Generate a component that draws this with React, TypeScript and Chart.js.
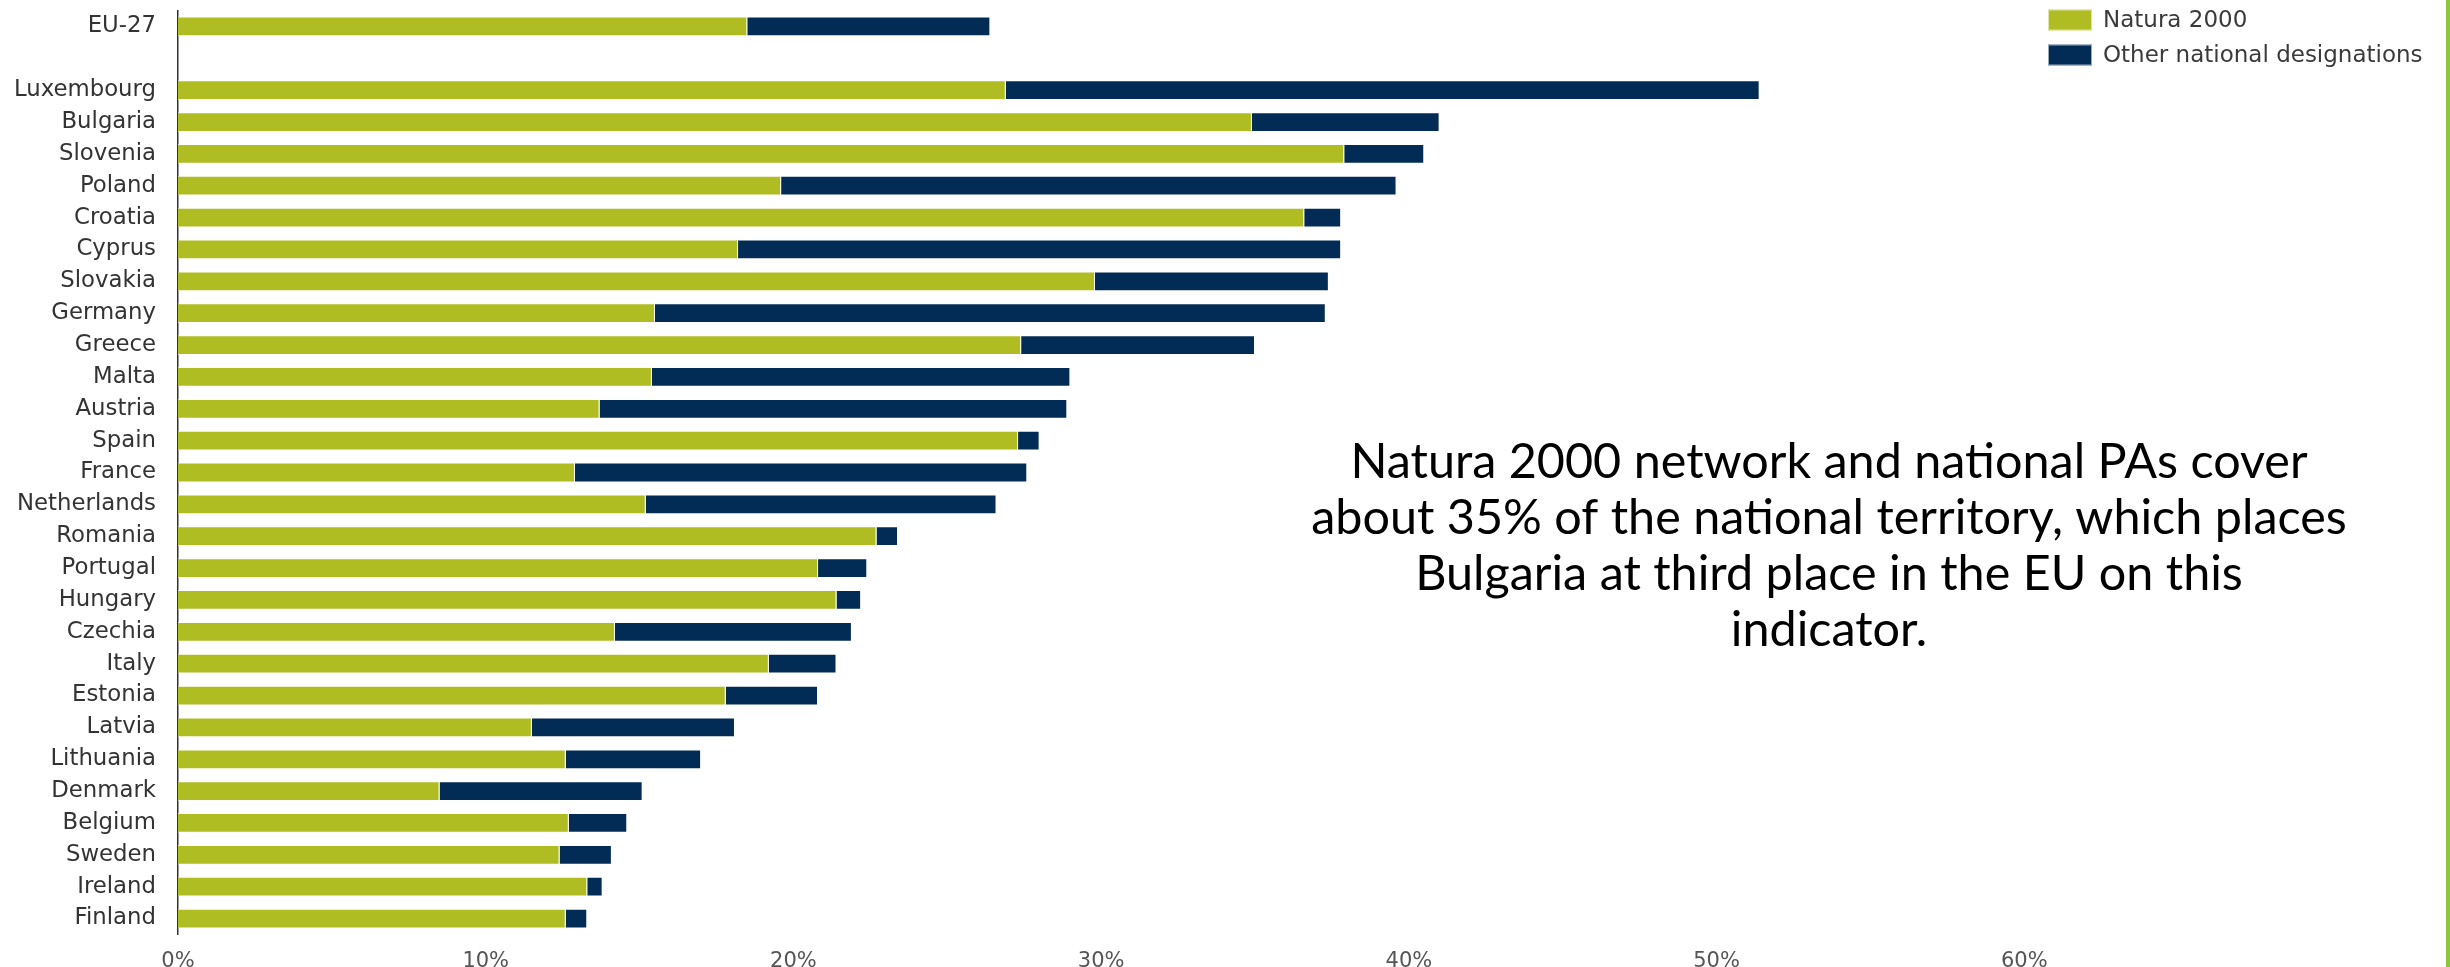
import React, { useEffect, useRef } from "react";
import { Chart, registerables } from "chart.js";

Chart.register(...registerables);

const countries = [
  "EU-27", "", "Luxembourg", "Bulgaria", "Slovenia", "Poland", "Croatia", "Cyprus",
  "Slovakia", "Germany", "Greece", "Malta", "Austria", "Spain", "France", "Netherlands",
  "Romania", "Portugal", "Hungary", "Czechia", "Italy", "Estonia", "Latvia", "Lithuania",
  "Denmark", "Belgium", "Sweden", "Ireland", "Finland",
];

const natura2000 = [
  18.5, null, 26.9, 34.9, 37.9, 19.6, 36.6, 18.2,
  29.8, 15.5, 27.4, 15.4, 13.7, 27.3, 12.9, 15.2,
  22.7, 20.8, 21.4, 14.2, 19.2, 17.8, 11.5, 12.6,
  8.5, 12.7, 12.4, 13.3, 12.6,
];

const otherNational = [
  7.9, null, 24.5, 6.1, 2.6, 20.0, 1.2, 19.6,
  7.6, 21.8, 7.6, 13.6, 15.2, 0.7, 14.7, 11.4,
  0.7, 1.6, 0.8, 7.7, 2.2, 3.0, 6.6, 4.4,
  6.6, 1.9, 1.7, 0.5, 0.7,
];

const xTickValues = [0, 10, 20, 30, 40, 50, 60];

const seriesLabels = ["Natura 2000", "Other national designations"];
const seriesColors = ["#AFBD22", "#022C55"];

const noteLines = [
  "Natura 2000 network and national PAs cover",
  "about 35% of the national territory, which places",
  "Bulgaria at third place in the EU on this",
  "indicator.",
];

const overlayPlugin = {
  id: "overlay",
  afterDraw(chart: any) {
    const ctx = chart.ctx as CanvasRenderingContext2D;
    ctx.save();
    // legend
    chart.data.datasets.forEach((ds: any, i: number) => {
      const cy = 20 + i * 35;
      ctx.fillStyle = ds.backgroundColor;
      ctx.fillRect(2048, cy - 10.5, 44, 21);
      ctx.strokeStyle = "rgba(255,255,255,0.6)";
      ctx.lineWidth = 1;
      ctx.strokeRect(2048.5, cy - 10, 43, 20);
      ctx.fillStyle = "#3a3a3a";
      ctx.font = "23px 'DejaVu Sans'";
      ctx.textAlign = "left";
      ctx.textBaseline = "middle";
      ctx.fillText(ds.label, 2103, cy + 1);
    });
    // annotation
    ctx.fillStyle = "#000";
    ctx.font = "48.5px Lato";
    ctx.textAlign = "center";
    ctx.textBaseline = "middle";
    noteLines.forEach((line, i) => {
      ctx.fillText(line, 1829, 462 + i * 56);
    });
    // slide border line
    ctx.fillStyle = "#8DC63F";
    ctx.fillRect(2446, 0, 4, 967);
    ctx.restore();
  },
};

export default function App() {
  const canvasRef = useRef<HTMLCanvasElement | null>(null);

  useEffect(() => {
    document.body.style.margin = "0";
    document.body.style.overflow = "hidden";
    const canvas = canvasRef.current;
    if (!canvas) return;
    const chart = new Chart(canvas, {
      type: "bar",
      data: {
        labels: countries,
        datasets: [
          {
            label: seriesLabels[0],
            data: natura2000,
            backgroundColor: seriesColors[0],
            borderColor: "rgba(255,255,255,0.6)",
            borderWidth: 1,
            barPercentage: 0.62,
            categoryPercentage: 1,
          },
          {
            label: seriesLabels[1],
            data: otherNational,
            backgroundColor: seriesColors[1],
            borderColor: "rgba(255,255,255,0.6)",
            borderWidth: 1,
            barPercentage: 0.62,
            categoryPercentage: 1,
          },
        ],
      },
      options: {
        indexAxis: "y",
        animation: false,
        responsive: true,
        maintainAspectRatio: false,
        layout: { padding: { top: 10.5, left: 0, right: 118, bottom: 0 } },
        plugins: {
          legend: { display: false },
          tooltip: { enabled: false },
        },
        scales: {
          x: {
            stacked: true,
            min: 0,
            max: 70,
            grid: { display: false, drawTicks: false },
            border: { display: false },
            ticks: {
              stepSize: 10,
              padding: 14,
              color: "#555",
              font: { family: "'DejaVu Sans'", size: 21 },
              callback: (v: any) => v + "%",
            },
            afterBuildTicks: (scale: any) => {
              scale.ticks = xTickValues.map((v) => ({ value: v }));
            },
            afterFit: (scale: any) => {
              scale.height = 32.5;
              scale.paddingLeft = 0;
              scale.paddingRight = 0;
            },
          },
          y: {
            stacked: true,
            grid: { display: false, drawTicks: false },
            border: { display: true, color: "#333", width: 1.5 },
            ticks: {
              padding: 22,
              color: "#333",
              autoSkip: false,
              font: { family: "'DejaVu Sans'", size: 22.8 },
            },
            afterFit: (scale: any) => {
              scale.width = 178;
              scale.paddingTop = 0;
              scale.paddingBottom = 0;
            },
          },
        },
      },
      plugins: [overlayPlugin],
    });
    return () => chart.destroy();
  }, []);

  return (
    <div style={{ width: 2450, height: 967, position: "relative", background: "#fff" }}>
      <canvas ref={canvasRef} />
    </div>
  );
}
